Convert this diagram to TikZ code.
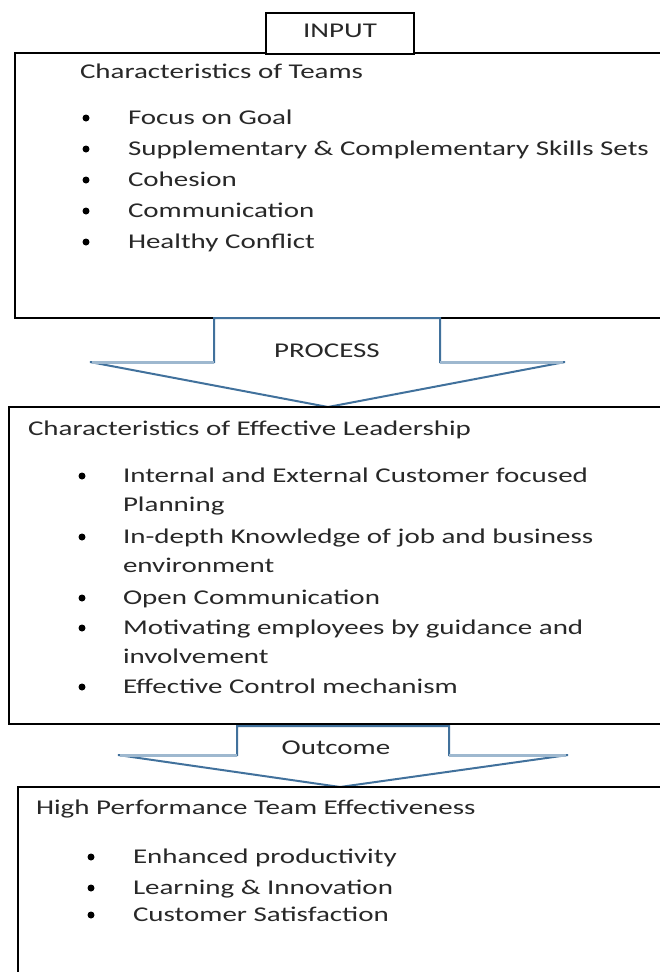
\documentclass[tikz,border=0pt]{standalone}
\usepackage{fontspec}
\setmainfont{Carlito}[FakeStretch=1.38]
\definecolor{arrowblue}{RGB}{65,113,156}
\definecolor{wingblue}{RGB}{158,184,207}
\definecolor{inkgray}{RGB}{40,40,40}
\begin{document}
\begin{tikzpicture}[x=1pt,y=-1pt,
  panel/.style={draw=black,line width=2.6pt,fill=white,rectangle,inner sep=0pt,outer sep=0pt,anchor=north west},
  blockarrow/.style={draw=arrowblue,line width=2pt,fill=white,line join=miter},
  wingedge/.style={draw=wingblue,line width=3pt},
  txt/.style={anchor=base west,inner sep=0pt,outer sep=0pt,text=inkgray,font=\fontsize{21}{25}\selectfont},
  ctxt/.style={txt,anchor=base},
  dotmark/.style={circle,fill=black,inner sep=0pt,outer sep=0pt,minimum size=7pt}]
\useasboundingbox (0,0) rectangle (660,972);
\clip (0,0) rectangle (660,972);

% ---- input: team characteristics ----
\node[panel,minimum width=665pt,minimum height=265pt] (teams) at (15,53) {};
\node[panel,minimum width=148pt,minimum height=41pt] (inputbox) at (266,13) {};
\node[ctxt] (inputlbl) at (340,37) {INPUT};

\node[txt] (teamshead) at (80,78) {Characteristics of Teams};
\foreach \y/\t [count=\i] in {124/Focus on Goal,
    155/Supplementary \& Complementary Skills Sets,
    186/Cohesion,
    217/Communication,
    248/Healthy Conflict}{
  \node[dotmark] (teamsdot\i) at (86,\y-6) {};
  \node[txt] (teamsitem\i) at (128,\y) {\t};
}

% ---- process arrow ----
\draw[blockarrow] (214,318) -- (440,318) -- (440,362) -- (565,362)
  -- (328,407) -- (90,362) -- (214,362) -- cycle;
\draw[wingedge] (92,362) -- (214,362);
\draw[wingedge] (440,362) -- (563,362);
\node[ctxt] (processlbl) at (327,357) {PROCESS};

% ---- leadership characteristics ----
\node[panel,minimum width=671pt,minimum height=317pt] (lead) at (9,407) {};
\node[txt] (leadhead) at (28,435) {Characteristics of Effective Leadership};
\foreach \y/\t [count=\i] in {482/Internal and External Customer focused,
    543/In-depth Knowledge of job and business,
    604/Open Communication,
    634/Motivating employees by guidance and,
    693/Effective Control mechanism}{
  \node[dotmark] (leaddot\i) at (82,\y-6) {};
  \node[txt] (leaditem\i) at (123,\y) {\t};
}
\node[txt] (leadwrap1) at (123,511) {Planning};
\node[txt] (leadwrap2) at (123,572) {environment};
\node[txt] (leadwrap4) at (123,663) {involvement};

% ---- outcome arrow ----
\draw[blockarrow] (237,726) -- (449,726) -- (449,755) -- (568,755)
  -- (340,787) -- (118,755) -- (237,755) -- cycle;
\draw[wingedge] (120,755) -- (237,755);
\draw[wingedge] (449,755) -- (566,755);
\node[ctxt] (outcomelbl) at (336,754) {Outcome};

% ---- team effectiveness ----
\node[panel,minimum width=662pt,minimum height=200pt] (effect) at (18,787) {};
\node[txt] (effecthead) at (36,814) {High Performance Team Effectiveness};
\foreach \y/\t [count=\i] in {863/Enhanced productivity,
    894/Learning \& Innovation,
    921/Customer Satisfaction}{
  \node[dotmark] (effectdot\i) at (91,\y-6) {};
  \node[txt] (effectitem\i) at (133,\y) {\t};
}
\end{tikzpicture}
\end{document}
